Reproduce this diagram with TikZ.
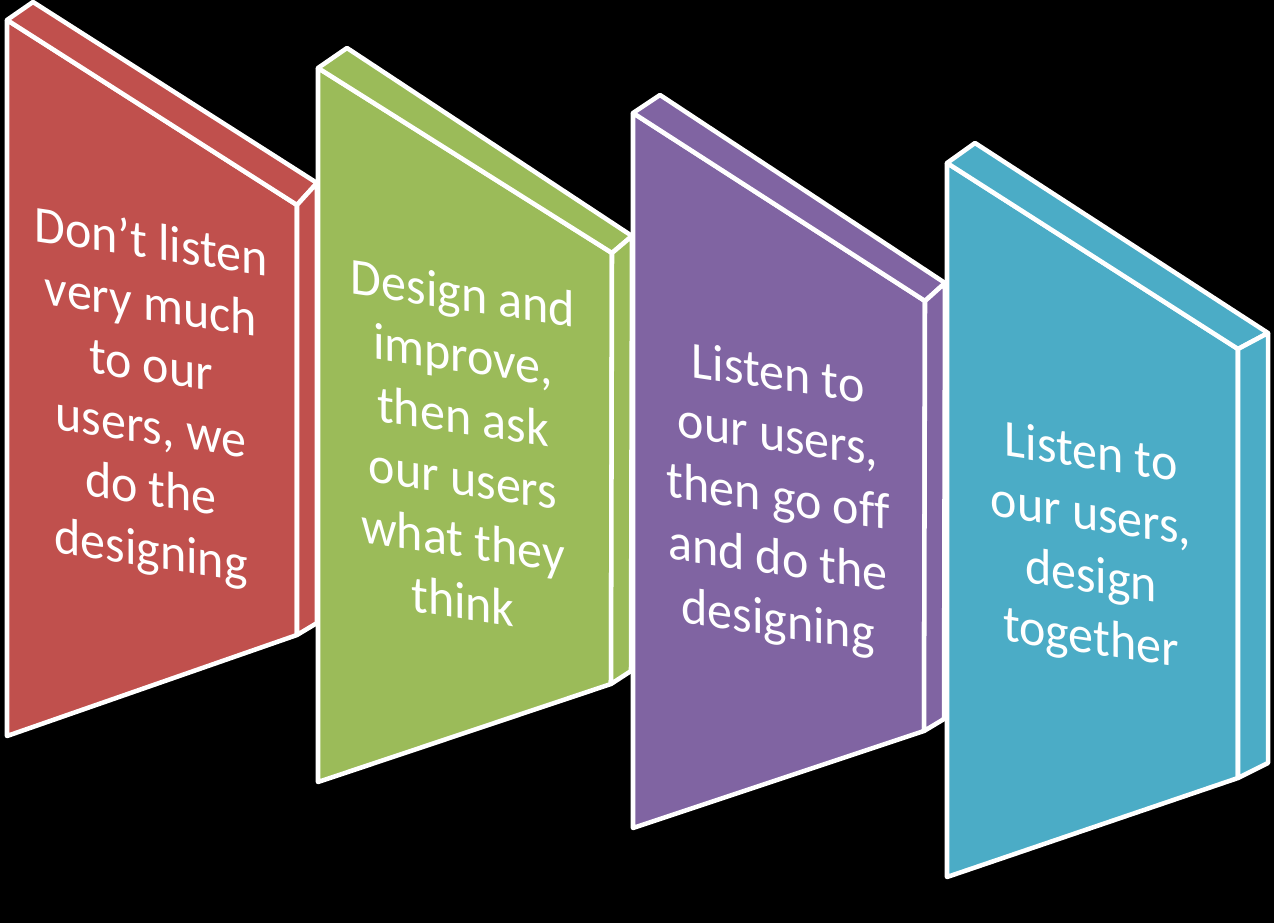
\documentclass[tikz,border=0pt]{standalone}
\usepackage{fontspec}
\setmainfont{Carlito}[Ligatures=NoCommon]
% #1 colour, #2 front top left, #3 back top left, #4 back top right,
% #5 front top right, #6 front bottom right, #7 side bottom right, #8 front bottom left
\newcommand\panelshape[8]{%
  \filldraw[face,fill=#1] #2 -- #5 -- #6 -- #8 -- cycle;
  \filldraw[face,fill=#1] #2 -- #3 -- #4 -- #5 -- cycle;
  \filldraw[face,fill=#1] #5 -- #4 -- #7 -- #6 -- cycle;
}
\definecolor{panelred}{HTML}{C0504D}
\definecolor{panelgreen}{HTML}{9BBB59}
\definecolor{panelpurple}{HTML}{8064A2}
\definecolor{panelcyan}{HTML}{4BACC6}
\begin{document}
\begin{tikzpicture}[x=0.75pt,y=-0.75pt,
  face/.style={draw=white,line width=3.4pt,line join=round},
  paneltext/.style={text=white,align=center,inner sep=0pt,yslant=-0.15,yscale=1.04,
    font=\fontsize{37.5}{44.5}\selectfont}]
\fill[black] (0,0) rectangle (1274,923);
\useasboundingbox (0,0) rectangle (1274,923);

\panelshape{panelred}{(7,20)}{(33,2)}{(317,183)}{(297,205)}{(297,635)}{(317,623)}{(7,736)}
\node[paneltext] (t1) at (151,399) {Don’t listen\\very much\\to our\\users, we\\do the\\designing};

\panelshape{panelgreen}{(318,68)}{(347,48)}{(632,236)}{(612,253)}{(611,684)}{(631,671)}{(318,782)}
\node[paneltext] (t2) at (463,447) {Design and\\improve,\\then ask\\our users\\what they\\think};

\panelshape{panelpurple}{(633,113)}{(660,95)}{(945,283)}{(925,301)}{(924,731)}{(944,719)}{(633,828)}
\node[paneltext] (t3) at (778,500) {Listen to\\our users,\\then go off\\and do the\\designing};

\panelshape{panelcyan}{(947,163)}{(975,143)}{(1268,333)}{(1238,349)}{(1238,778)}{(1268,763)}{(947,877)}
\node[paneltext] (t4) at (1091,548) {Listen to\\our users,\\design\\together};
\end{tikzpicture}
\end{document}
